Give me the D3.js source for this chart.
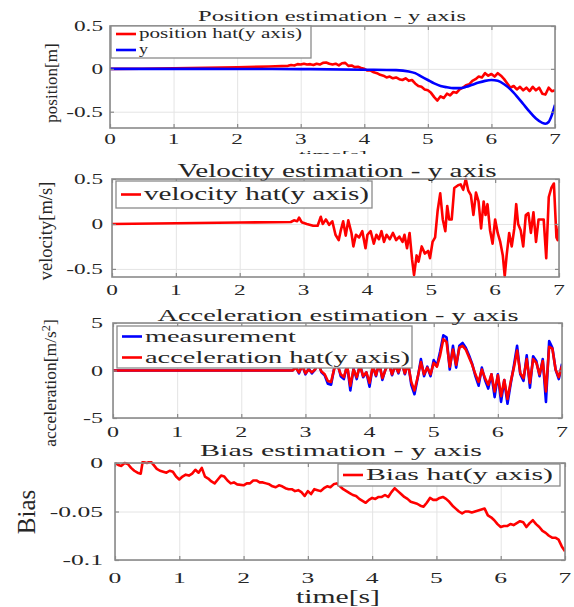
<!DOCTYPE html>
<html lang="en">
<head>
<meta charset="utf-8">
<title>Estimation - y axis</title>
<script src="https://cdnjs.cloudflare.com/ajax/libs/d3/7.8.5/d3.min.js"></script>
<style>
  body { margin: 0; background: #fff; }
  svg text { font-family: "Liberation Serif", "Times New Roman", Times, "DejaVu Serif", serif; }
</style>
</head>
<body>
<div id="chart"></div>
<script>
// ---- data (time [s], value) ----
var timeTicks = [0, 1, 2, 3, 4, 5, 6, 7];

var posTicks = [-0.5, 0, 0.5];
var velTicks = [-0.5, 0, 0.5];
var accTicks = [-5, 0, 5];
var biasTicks = [-0.1, -0.05, 0];

var posHat = [[0,0],[0.5,0.002],[1,0.006],[1.5,0.011],[2,0.018],[2.5,0.027],[2.8,0.035],[2.85,0.045],[2.9,0.04],[2.95,0.055],[3,0.05],[3.05,0.06],[3.1,0.05],[3.15,0.055],[3.2,0.045],[3.25,0.06],[3.3,0.05],[3.35,0.07],[3.4,0.075],[3.45,0.06],[3.5,0.05],[3.55,0.06],[3.6,0.04],[3.65,0.065],[3.7,0.07],[3.75,0.035],[3.8,0.04],[3.85,0.02],[3.9,0.025],[3.95,0.01],[4,0],[4.05,-0.02],[4.1,-0.02],[4.15,-0.04],[4.2,-0.05],[4.25,-0.07],[4.3,-0.08],[4.35,-0.1],[4.4,-0.09],[4.45,-0.11],[4.5,-0.1],[4.55,-0.12],[4.6,-0.13],[4.65,-0.11],[4.7,-0.14],[4.75,-0.13],[4.8,-0.17],[4.85,-0.2],[4.9,-0.21],[4.95,-0.24],[5,-0.25],[5.05,-0.28],[5.1,-0.33],[5.15,-0.37],[5.2,-0.32],[5.25,-0.34],[5.3,-0.29],[5.35,-0.31],[5.4,-0.27],[5.45,-0.28],[5.5,-0.24],[5.55,-0.22],[5.6,-0.19],[5.65,-0.18],[5.7,-0.14],[5.75,-0.12],[5.8,-0.09],[5.85,-0.1],[5.9,-0.05],[5.95,-0.08],[6,-0.06],[6.05,-0.09],[6.1,-0.05],[6.15,-0.08],[6.2,-0.12],[6.25,-0.17],[6.3,-0.22],[6.35,-0.2],[6.4,-0.24],[6.45,-0.21],[6.5,-0.25],[6.55,-0.22],[6.6,-0.26],[6.65,-0.21],[6.7,-0.25],[6.75,-0.22],[6.8,-0.29],[6.85,-0.3],[6.9,-0.22],[6.95,-0.26],[7,-0.25]];

var posTrue = [[0,0],[1,0],[2,-0.001],[3,-0.003],[4,-0.01],[4.5,-0.015],[4.7,-0.03],[4.8,-0.05],[4.9,-0.09],[5,-0.13],[5.1,-0.17],[5.2,-0.2],[5.3,-0.215],[5.4,-0.225],[5.5,-0.225],[5.6,-0.21],[5.7,-0.185],[5.8,-0.16],[5.9,-0.14],[6,-0.13],[6.1,-0.14],[6.2,-0.18],[6.3,-0.24],[6.4,-0.32],[6.5,-0.41],[6.6,-0.5],[6.7,-0.58],[6.8,-0.63],[6.85,-0.64],[6.9,-0.62],[6.95,-0.54],[7,-0.42]];

var velHat = [[0,0],[1,0.008],[2,0.016],[2.8,0.022],[2.85,0.04],[2.9,0.03],[2.93,0.07],[2.97,0.02],[3.05,0],[3.15,-0.02],[3.22,-0.02],[3.27,0.08],[3.3,0],[3.35,0.05],[3.4,-0.01],[3.45,0.03],[3.5,-0.12],[3.55,-0.18],[3.58,-0.08],[3.62,0.03],[3.66,-0.13],[3.7,0.04],[3.75,-0.1],[3.78,-0.25],[3.82,-0.12],[3.87,-0.15],[3.92,-0.08],[3.97,-0.27],[4,-0.12],[4.05,-0.08],[4.1,-0.22],[4.14,-0.12],[4.18,-0.17],[4.22,-0.08],[4.26,-0.2],[4.3,-0.12],[4.35,-0.17],[4.4,-0.1],[4.45,-0.18],[4.5,-0.14],[4.55,-0.2],[4.58,-0.12],[4.62,-0.27],[4.66,-0.1],[4.7,-0.4],[4.73,-0.57],[4.77,-0.35],[4.8,-0.42],[4.85,-0.25],[4.9,-0.33],[4.95,-0.3],[4.98,-0.38],[5.02,-0.2],[5.06,-0.15],[5.1,0.15],[5.14,0.34],[5.18,0.05],[5.22,-0.08],[5.25,0.2],[5.28,0.05],[5.32,0.05],[5.36,0.4],[5.42,0.43],[5.46,0.44],[5.5,0.38],[5.54,0.5],[5.58,0.37],[5.62,0.32],[5.66,0.1],[5.7,0.35],[5.74,0.25],[5.78,-0.05],[5.82,0.25],[5.85,0.1],[5.88,0.22],[5.92,-0.07],[5.96,-0.22],[6,0.05],[6.04,-0.1],[6.08,-0.2],[6.12,-0.35],[6.15,-0.58],[6.18,-0.35],[6.22,-0.1],[6.26,-0.25],[6.3,-0.05],[6.33,0.22],[6.36,0],[6.4,-0.07],[6.44,-0.25],[6.48,0.1],[6.52,0.12],[6.56,-0.1],[6.6,0.13],[6.64,-0.2],[6.68,0.05],[6.72,0.05],[6.76,0.05],[6.8,-0.38],[6.84,0.3],[6.88,0.4],[6.92,0.45],[6.96,-0.15],[6.98,-0.18],[7,-0.02]];

var accMeas = [[0,0],[2.8,0],[2.85,0.4],[2.9,-0.3],[2.95,0.6],[3,-0.4],[3.05,0.2],[3.1,-0.3],[3.15,0.1],[3.2,0.8],[3.25,-0.2],[3.3,-0.5],[3.35,-1.4],[3.4,-1.5],[3.45,0.3],[3.5,0.8],[3.55,-0.6],[3.6,-0.9],[3.65,0.6],[3.7,-2.1],[3.75,0.2],[3.8,-0.9],[3.85,0.7],[3.9,-0.7],[3.95,-0.2],[4,-1.7],[4.05,0.5],[4.1,-0.6],[4.15,0.9],[4.2,-1],[4.25,0.2],[4.3,0.9],[4.35,-0.5],[4.4,0.6],[4.45,-0.3],[4.5,1],[4.55,-0.4],[4.6,0.9],[4.65,-1.5],[4.7,-2.5],[4.75,-0.8],[4.8,1.2],[4.85,-0.6],[4.9,0.4],[4.95,-0.6],[5,1.1],[5.05,0.5],[5.1,2],[5.15,3.7],[5.2,3.5],[5.25,0.1],[5.3,2.6],[5.35,0.3],[5.4,2.6],[5.45,2.9],[5.5,2.4],[5.55,1.6],[5.6,0.7],[5.65,-0.6],[5.7,-1.6],[5.75,0.3],[5.8,-1],[5.85,-1.9],[5.9,-0.4],[5.95,-2.8],[6,-0.4],[6.05,-3.3],[6.1,-1],[6.15,-3.5],[6.2,-1.4],[6.25,0.5],[6.3,2.6],[6.35,-0.4],[6.4,-1.1],[6.45,1.6],[6.5,-1.8],[6.55,1.5],[6.6,1],[6.65,-0.6],[6.7,1.2],[6.75,-3.3],[6.8,3.1],[6.85,2.4],[6.9,0.1],[6.95,-0.9],[7,0.7]];

var accHat = [[0,0],[2.8,0],[2.85,0.3],[2.9,-0.2],[2.95,0.5],[3,-0.3],[3.05,0.1],[3.1,-0.2],[3.15,0.1],[3.2,0.6],[3.25,-0.1],[3.3,-0.4],[3.35,-1.1],[3.4,-1.2],[3.45,0.2],[3.5,0.6],[3.55,-0.4],[3.6,-0.7],[3.65,0.5],[3.7,-1.6],[3.75,0.1],[3.8,-0.7],[3.85,0.5],[3.9,-0.6],[3.95,-0.2],[4,-1.3],[4.05,0.4],[4.1,-0.5],[4.15,0.7],[4.2,-0.8],[4.25,0.1],[4.3,0.7],[4.35,-0.4],[4.4,0.5],[4.45,-0.2],[4.5,0.8],[4.55,-0.3],[4.6,0.7],[4.65,-1.2],[4.7,-2.1],[4.75,-0.7],[4.8,0.9],[4.85,-0.4],[4.9,0.3],[4.95,-0.4],[5,0.8],[5.05,0.4],[5.1,1.6],[5.15,3.3],[5.2,3],[5.25,0.4],[5.3,2.2],[5.35,0.6],[5.4,2.4],[5.45,2.6],[5.5,2.2],[5.55,1.4],[5.6,0.6],[5.65,-0.4],[5.7,-1.2],[5.75,0.1],[5.8,-0.8],[5.85,-1.5],[5.9,-0.4],[5.95,-2.2],[6,-0.5],[6.05,-2.7],[6.1,-1],[6.15,-3],[6.2,-1.2],[6.25,0.3],[6.3,2.1],[6.35,-0.3],[6.4,-0.8],[6.45,1.2],[6.5,-1.3],[6.55,1.2],[6.6,0.8],[6.65,-0.4],[6.7,1],[6.75,-2.2],[6.8,2.5],[6.85,2.3],[6.9,0.1],[6.95,-0.7],[7,0.5]];

var biasHat = [[0,0],[0.05,-0.002],[0.1,-0.003],[0.15,0],[0.2,-0.001],[0.25,-0.005],[0.3,-0.008],[0.35,-0.01],[0.4,-0.011],[0.43,0.001],[0.5,0],[0.55,0.002],[0.6,-0.002],[0.65,-0.006],[0.7,-0.008],[0.75,-0.009],[0.8,-0.01],[0.85,-0.008],[0.9,-0.009],[0.95,-0.014],[1,-0.017],[1.05,-0.014],[1.1,-0.012],[1.15,-0.013],[1.2,-0.011],[1.25,-0.007],[1.3,-0.01],[1.35,-0.005],[1.4,-0.014],[1.45,-0.016],[1.5,-0.019],[1.55,-0.021],[1.6,-0.017],[1.65,-0.013],[1.7,-0.014],[1.75,-0.018],[1.8,-0.021],[1.85,-0.02],[1.9,-0.022],[2,-0.023],[2.05,-0.021],[2.1,-0.021],[2.15,-0.018],[2.2,-0.018],[2.25,-0.02],[2.3,-0.02],[2.35,-0.021],[2.4,-0.022],[2.45,-0.024],[2.5,-0.025],[2.55,-0.023],[2.6,-0.024],[2.65,-0.026],[2.7,-0.027],[2.75,-0.027],[2.8,-0.029],[2.85,-0.028],[2.9,-0.03],[2.95,-0.034],[3,-0.029],[3.05,-0.032],[3.1,-0.027],[3.15,-0.028],[3.2,-0.029],[3.25,-0.026],[3.3,-0.024],[3.35,-0.025],[3.4,-0.022],[3.45,-0.021],[3.5,-0.024],[3.55,-0.027],[3.6,-0.029],[3.65,-0.031],[3.7,-0.033],[3.75,-0.034],[3.8,-0.037],[3.85,-0.039],[3.9,-0.041],[3.95,-0.038],[4,-0.036],[4.05,-0.037],[4.1,-0.035],[4.15,-0.035],[4.2,-0.033],[4.25,-0.035],[4.3,-0.03],[4.35,-0.026],[4.4,-0.029],[4.45,-0.032],[4.5,-0.035],[4.55,-0.037],[4.6,-0.04],[4.65,-0.041],[4.7,-0.042],[4.75,-0.044],[4.8,-0.045],[4.85,-0.041],[4.9,-0.036],[4.95,-0.038],[5,-0.038],[5.05,-0.036],[5.1,-0.035],[5.15,-0.037],[5.2,-0.04],[5.25,-0.044],[5.3,-0.047],[5.35,-0.05],[5.4,-0.052],[5.45,-0.05],[5.5,-0.05],[5.55,-0.051],[5.6,-0.05],[5.65,-0.049],[5.7,-0.048],[5.75,-0.047],[5.8,-0.054],[5.85,-0.056],[5.9,-0.059],[5.95,-0.063],[6,-0.066],[6.05,-0.065],[6.1,-0.065],[6.15,-0.063],[6.2,-0.064],[6.25,-0.062],[6.3,-0.06],[6.35,-0.061],[6.4,-0.066],[6.45,-0.062],[6.5,-0.059],[6.55,-0.063],[6.6,-0.066],[6.65,-0.07],[6.7,-0.072],[6.75,-0.075],[6.8,-0.077],[6.85,-0.077],[6.9,-0.079],[6.95,-0.086],[7,-0.091]];

// ---- layout ----
var W = 574, H = 607;
var RED = "#ff0000", BLUE = "#0000ff", INK = "#262626";

var svg = d3.select("#chart").append("svg")
  .attr("width", W).attr("height", H);

var panels = [
  { id: "pos", left: 110, right: 555, top: 26, bottom: 128, yDomain: [-0.69, 0.5],
    yTicks: posTicks, tickFont: 15, tickStretch: 1.55, xLabelY: 144,
    title: "Position estimation - y axis", titleX: 332, titleY: 21, titleFont: 15, titleW: 268,
    ylabel: "position[m]", ylabelX: 57, ylabelY: 83, ylabelFont: 17,
    series: [{ data: posHat, color: RED }, { data: posTrue, color: BLUE, smooth: true }],
    legend: { x: 111, y: 26, w: 200, h: 32, font: 14,
      rows: [{ label: "position hat(y axis)", color: RED, w: 163 }, { label: "y", color: BLUE, w: 9 }] } },
  { id: "vel", left: 112, right: 559, top: 179, bottom: 277, yDomain: [-0.59, 0.5],
    yTicks: velTicks, tickFont: 15, tickStretch: 1.55, xLabelY: 295,
    title: "Velocity estimation - y axis", titleX: 337, titleY: 177, titleFont: 18, titleW: 319,
    ylabel: "velocity[m/s]", ylabelX: 52, ylabelY: 231, ylabelFont: 18.5,
    series: [{ data: velHat, color: RED }],
    legend: { x: 116, y: 181, w: 256, h: 27, font: 18,
      rows: [{ label: "velocity hat(y axis)", color: RED, w: 225 }] } },
  { id: "acc", left: 113, right: 562, top: 323, bottom: 418, yDomain: [-5, 5],
    yTicks: accTicks, tickFont: 15.5, tickStretch: 1.55, xLabelY: 437,
    title: "Acceleration estimation - y axis", titleX: 338, titleY: 321, titleFont: 17, titleW: 361,
    ylabel: "acceleration[m/s", ylabelX: 56, ylabelY: 383, ylabelFont: 17.5,
    series: [{ data: accMeas, color: BLUE }, { data: accHat, color: RED }],
    legend: { x: 117, y: 326, w: 295, h: 42, font: 17,
      rows: [{ label: "measurement", color: BLUE, w: 151 }, { label: "acceleration hat(y axis)", color: RED, w: 265 }] } },
  { id: "bias", left: 115, right: 565, top: 463, bottom: 560, yDomain: [-0.1, 0],
    yTicks: biasTicks, tickFont: 15.5, tickStretch: 1.65, xLabelY: 583,
    title: "Bias estimation - y axis", titleX: 341, titleY: 456, titleFont: 17, titleW: 282,
    ylabel: "Bias", ylabelX: 35, ylabelY: 512, ylabelFont: 25,
    series: [{ data: biasHat, color: RED }],
    legend: { x: 338, y: 464, w: 222, h: 22, font: 17,
      rows: [{ label: "Bias hat(y axis)", color: RED, w: 187 }] } }
];

function fmt(v) { return String(v); }

function stretch(sel, w) {
  return sel.attr("textLength", w).attr("lengthAdjust", "spacingAndGlyphs");
}

panels.forEach(function (p) {
  var x = d3.scaleLinear().domain([0, 7]).range([p.left, p.right]);
  var y = d3.scaleLinear().domain(p.yDomain).range([p.bottom, p.top]);
  var h = p.bottom - p.top, w = p.right - p.left;
  var g = svg.append("g").attr("class", "panel-" + p.id);

  // grid
  g.append("g").attr("transform", "translate(0," + p.bottom + ")")
    .call(d3.axisBottom(x).tickValues(timeTicks).tickSize(-h).tickFormat(""))
    .call(function (s) { s.select(".domain").remove(); })
    .selectAll("line").attr("stroke", "#e4e4e4").attr("stroke-width", 1);
  g.append("g").attr("transform", "translate(" + p.left + ",0)")
    .call(d3.axisLeft(y).tickValues(p.yTicks).tickSize(-w).tickFormat(""))
    .call(function (s) { s.select(".domain").remove(); })
    .selectAll("line").attr("stroke", "#e4e4e4").attr("stroke-width", 1);

  // data lines
  var clipId = "clip-" + p.id;
  g.append("clipPath").attr("id", clipId).append("rect")
    .attr("x", p.left).attr("y", p.top - 2).attr("width", w).attr("height", h + 4);
  p.series.forEach(function (s) {
    var line = d3.line()
      .x(function (d) { return x(d[0]); })
      .y(function (d) { return y(d[1]); })
      .curve(s.smooth ? d3.curveMonotoneX : d3.curveLinear);
    g.append("path").datum(s.data)
      .attr("clip-path", "url(#" + clipId + ")")
      .attr("fill", "none").attr("stroke", s.color)
      .attr("stroke-width", 2.6).attr("stroke-linejoin", "round")
      .attr("d", line);
  });

  // inner tick marks
  var tickMarks = [
    [d3.axisBottom(x).tickValues(timeTicks).tickSize(-4), "translate(0," + p.bottom + ")"],
    [d3.axisTop(x).tickValues(timeTicks).tickSize(-4), "translate(0," + p.top + ")"],
    [d3.axisLeft(y).tickValues(p.yTicks).tickSize(-4), "translate(" + p.left + ",0)"],
    [d3.axisRight(y).tickValues(p.yTicks).tickSize(-4), "translate(" + p.right + ",0)"]
  ];
  tickMarks.forEach(function (t) {
    g.append("g").attr("transform", t[1])
      .call(t[0].tickFormat(""))
      .call(function (s) { s.select(".domain").remove(); })
      .selectAll("line").attr("stroke", "#8a8a8a").attr("stroke-width", 1.2);
  });

  // box
  g.append("rect").attr("x", p.left).attr("y", p.top).attr("width", w).attr("height", h)
    .attr("fill", "none").attr("stroke", "#8a8a8a").attr("stroke-width", 1.6);

  // tick labels
  g.selectAll(".xl").data(timeTicks).enter().append("text")
    .attr("transform", function (d) { return "translate(" + x(d) + "," + p.xLabelY + ") scale(" + p.tickStretch + ",1)"; })
    .attr("text-anchor", "middle").attr("font-size", p.tickFont).attr("fill", INK)
    .text(fmt);
  g.selectAll(".yl").data(p.yTicks).enter().append("text")
    .attr("transform", function (d) { return "translate(103," + (y(d) + p.tickFont * 0.33) + ") scale(" + p.tickStretch + ",1)"; })
    .attr("text-anchor", "end").attr("font-size", p.tickFont).attr("fill", INK)
    .text(fmt);

  // title
  stretch(g.append("text").attr("x", p.titleX).attr("y", p.titleY)
    .attr("text-anchor", "middle").attr("font-size", p.titleFont).attr("fill", INK)
    .text(p.title), p.titleW);

  // y label
  var yl = g.append("text")
    .attr("transform", "translate(" + p.ylabelX + "," + p.ylabelY + ") rotate(-90)")
    .attr("text-anchor", "middle").attr("font-size", p.ylabelFont).attr("fill", INK)
    .text(p.ylabel);
  if (p.id === "acc") {
    yl.append("tspan").attr("dy", -6).attr("font-size", p.ylabelFont * 0.7).text("2");
    yl.append("tspan").attr("dy", 6).text("]");
  }

  // legend
  var L = p.legend;
  var lg = g.append("g");
  lg.append("rect").attr("x", L.x).attr("y", L.y).attr("width", L.w).attr("height", L.h)
    .attr("fill", "#fff").attr("stroke", "#8a8a8a").attr("stroke-width", 1.3);
  var rowH = L.h / L.rows.length;
  L.rows.forEach(function (r, i) {
    var cy = L.y + rowH * (i + 0.5);
    lg.append("line").attr("x1", L.x + 5).attr("x2", L.x + 25).attr("y1", cy).attr("y2", cy)
      .attr("stroke", r.color).attr("stroke-width", 2.6);
    stretch(lg.append("text").attr("x", L.x + 28).attr("y", cy + L.font * 0.3)
      .attr("font-size", L.font).attr("fill", INK).text(r.label), r.w);
  });
});

// x label of the first panel, mostly hidden behind the panel below
svg.append("clipPath").attr("id", "clip-top-time").append("rect")
  .attr("x", 250).attr("y", 149).attr("width", 180).attr("height", 5);
svg.append("text").attr("x", 333).attr("y", 158)
  .attr("clip-path", "url(#clip-top-time)")
  .attr("text-anchor", "middle").attr("font-size", 11).attr("fill", INK)
  .attr("textLength", 68).attr("lengthAdjust", "spacingAndGlyphs")
  .text("time[s]");

// x label of the last panel
svg.append("text").attr("x", 338).attr("y", 603)
  .attr("text-anchor", "middle").attr("font-size", 18).attr("fill", INK)
  .attr("textLength", 84).attr("lengthAdjust", "spacingAndGlyphs")
  .text("time[s]");
</script>
</body>
</html>
